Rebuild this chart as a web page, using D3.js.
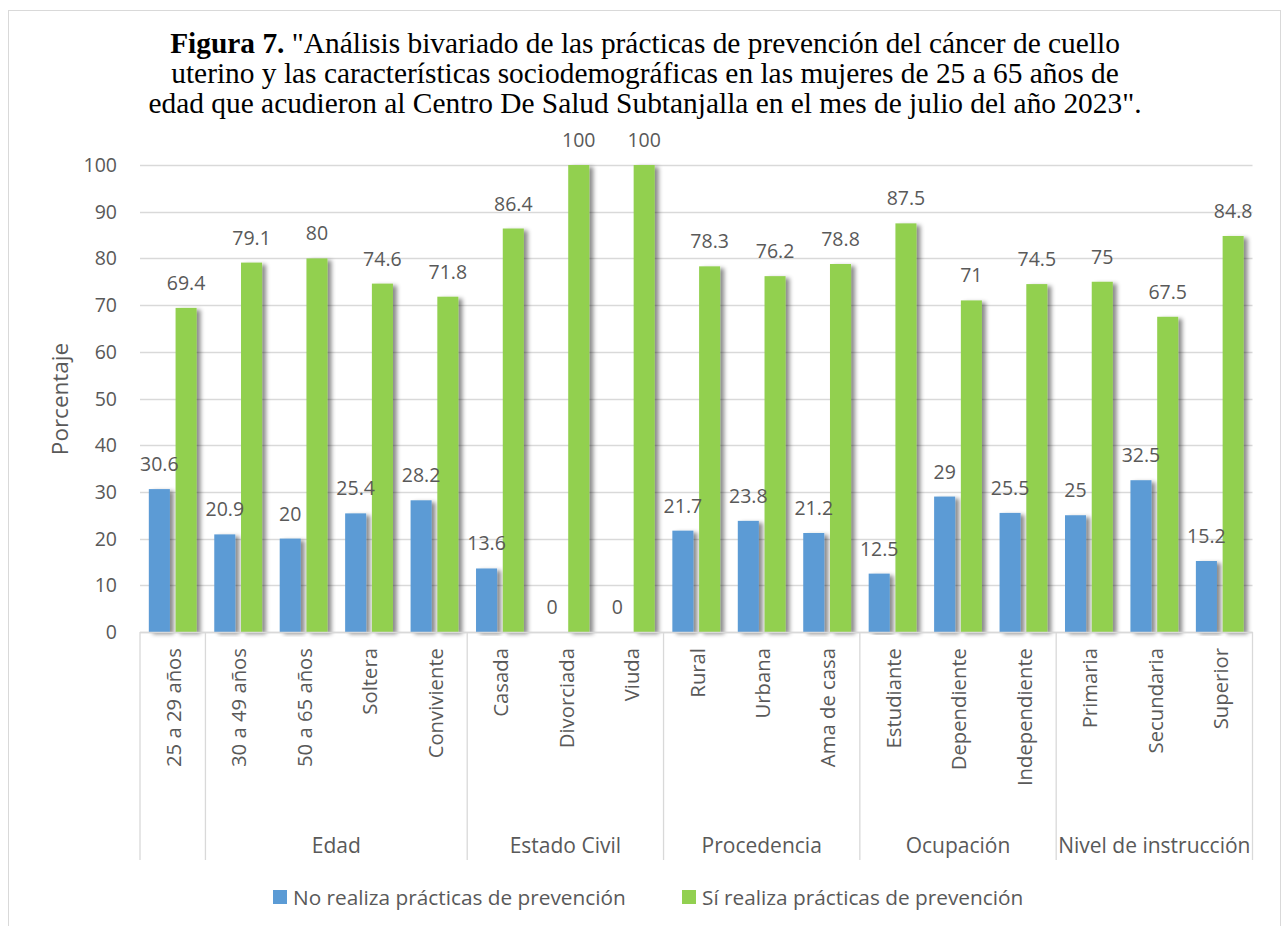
<!DOCTYPE html>
<html>
<head>
  <meta charset="utf-8">
  <title>Figura 7</title>
  <script src="https://cdn.jsdelivr.net/npm/d3@7"></script>
  <style>
    body { margin: 0; background: #fff; }
    .lbl { font-family: "Open Sans", sans-serif; fill: #595959; }
    .titulo { font-family: "Liberation Serif", "Times New Roman", serif; fill: #000; }
  </style>
</head>
<body>
<script>
  // datos
  var categorias = ["25 a 29 años", "30 a 49 años", "50 a 65 años", "Soltera", "Conviviente",
                    "Casada", "Divorciada", "Viuda", "Rural", "Urbana", "Ama de casa",
                    "Estudiante", "Dependiente", "Independiente", "Primaria", "Secundaria", "Superior"];
  var noRealiza = [30.6, 20.9, 20, 25.4, 28.2, 13.6, 0, 0, 21.7, 23.8, 21.2, 12.5, 29, 25.5, 25, 32.5, 15.2];
  var siRealiza = [69.4, 79.1, 80, 74.6, 71.8, 86.4, 100, 100, 78.3, 76.2, 78.8, 87.5, 71, 74.5, 75, 67.5, 84.8];
  var series = ["No realiza prácticas de prevención", "Sí realiza prácticas de prevención"];
  var grupos = ["", "Edad", "Estado Civil", "Procedencia", "Ocupación", "Nivel de instrucción"];
  var grupoTamano = [1, 4, 3, 3, 3, 3];
  var ticksY = [0, 10, 20, 30, 40, 50, 60, 70, 80, 90, 100];
  var lineasTitulo = [
    ["Figura 7.", " \"Análisis bivariado de las prácticas de prevención del cáncer de cuello"],
    ["", "uterino y las características sociodemográficas en las mujeres de 25 a 65 años de"],
    ["", "edad que acudieron al Centro De Salud Subtanjalla en el mes de julio del año 2023\"."]
  ];

  var ancho = 1287, alto = 926;
  var colores = ["#5b9bd5", "#92d050"];
  var izq = 140, der = 1252.5, arriba = 165, abajo = 632;

  var svg = d3.select("body").append("svg")
              .attr("width", ancho)
              .attr("height", alto);

  // sombra de las barras
  var filtro = svg.append("defs").append("filter")
                  .attr("id", "sombra")
                  .attr("x", "-20%").attr("y", "-5%")
                  .attr("width", "160%").attr("height", "110%");
  filtro.append("feDropShadow")
        .attr("dx", 4).attr("dy", 2)
        .attr("stdDeviation", 2.2)
        .attr("flood-color", "#000")
        .attr("flood-opacity", 0.45);

  // borde exterior
  svg.append("rect")
     .attr("x", 8.5).attr("y", 10.5)
     .attr("width", 1272).attr("height", 940)
     .attr("fill", "none")
     .attr("stroke", "#d9d9d9");

  // titulo
  var titulo = svg.append("text")
                  .attr("class", "titulo")
                  .attr("text-anchor", "middle")
                  .style("font-size", "29.4px");
  lineasTitulo.forEach(function(l, i) {
    var t = titulo.append("tspan")
                  .attr("x", 645)
                  .attr("y", 53 + i * 30);
    if (l[0] != "") t.append("tspan").attr("font-weight", "bold").text(l[0]);
    t.append("tspan").text(l[1]);
  });

  var y = d3.scaleLinear().domain([0, 100]).range([abajo, arriba]);
  var x0 = d3.scaleBand().domain(categorias).range([izq, der]);
  var x1 = d3.scaleBand().domain(series).range([0, x0.bandwidth()])
             .paddingInner(0.213).paddingOuter(0.33);

  // lineas de la cuadricula
  svg.append("g").selectAll("line")
     .data(ticksY)
     .enter().append("line")
     .attr("x1", izq).attr("x2", der)
     .attr("y1", function(d) { return Math.round(y(d)) + 0.5; })
     .attr("y2", function(d) { return Math.round(y(d)) + 0.5; })
     .attr("stroke", "#d9d9d9")
     .attr("stroke-width", 1.3);

  // etiquetas eje y
  svg.append("g").selectAll("text")
     .data(ticksY)
     .enter().append("text")
     .attr("class", "lbl")
     .attr("x", 117)
     .attr("y", function(d) { return y(d); })
     .attr("dy", "0.36em")
     .attr("text-anchor", "end")
     .style("font-size", "19.5px")
     .text(function(d) { return d; });

  svg.append("text")
     .attr("class", "lbl")
     .attr("transform", "translate(60,399) rotate(-90)")
     .attr("text-anchor", "middle")
     .attr("dy", "0.36em")
     .style("font-size", "22.5px")
     .text("Porcentaje");

  // barras
  var filas = categorias.map(function(c, i) {
    return { cat: c, valores: [noRealiza[i], siRealiza[i]] };
  });

  var grupo = svg.append("g").selectAll("g")
                 .data(filas)
                 .enter().append("g")
                 .attr("transform", function(d) { return "translate(" + x0(d.cat) + ",0)"; });

  grupo.selectAll("rect")
       .data(function(d) { return d.valores.map(function(v, j) { return { serie: series[j], v: v, j: j }; }); })
       .enter().append("rect")
       .attr("x", function(d) { return x1(d.serie); })
       .attr("width", x1.bandwidth())
       .attr("y", function(d) { return y(d.v); })
       .attr("height", function(d) { return abajo - y(d.v); })
       .attr("fill", function(d) { return colores[d.j]; })
       .attr("filter", function(d) { return d.v > 0 ? "url(#sombra)" : null; });

  grupo.selectAll("text")
       .data(function(d) { return d.valores.map(function(v, j) { return { serie: series[j], v: v }; }); })
       .enter().append("text")
       .attr("class", "lbl")
       .attr("x", function(d) { return x1(d.serie) + x1.bandwidth() / 2; })
       .attr("y", function(d) { return y(d.v) - 18; })
       .attr("text-anchor", "middle")
       .style("font-size", "19.5px")
       .text(function(d) { return d.v; });

  // eje x
  svg.append("line")
     .attr("x1", izq).attr("x2", der)
     .attr("y1", abajo + 0.5).attr("y2", abajo + 0.5)
     .attr("stroke", "#d9d9d9")
     .attr("stroke-width", 1.3);

  svg.append("g").selectAll("text")
     .data(categorias)
     .enter().append("text")
     .attr("class", "lbl")
     .attr("transform", function(d) { return "translate(" + (x0(d) + x0.bandwidth() / 2 + 1) + ",648) rotate(-90)"; })
     .attr("dy", "0.36em")
     .attr("text-anchor", "end")
     .style("font-size", "20.3px")
     .text(function(d) { return d; });

  // grupos de categorias
  var inicio = 0;
  var limites = [0];
  grupoTamano.forEach(function(n) { inicio += n; limites.push(inicio); });

  svg.append("g").selectAll("line")
     .data(limites)
     .enter().append("line")
     .attr("x1", function(d) { return d < categorias.length ? x0(categorias[d]) : der; })
     .attr("x2", function(d) { return d < categorias.length ? x0(categorias[d]) : der; })
     .attr("y1", abajo)
     .attr("y2", 860)
     .attr("stroke", "#d9d9d9")
     .attr("stroke-width", 1.3);

  svg.append("g").selectAll("text")
     .data(grupos)
     .enter().append("text")
     .attr("class", "lbl")
     .attr("x", function(d, i) {
        var a = x0(categorias[limites[i]]);
        var b = limites[i + 1] < categorias.length ? x0(categorias[limites[i + 1]]) : der;
        return (a + b) / 2;
     })
     .attr("y", 853)
     .attr("text-anchor", "middle")
     .style("font-size", "21px")
     .text(function(d) { return d; });

  // leyenda
  var posLeyenda = [273, 682];
  var leyenda = svg.append("g").selectAll("g")
                   .data(series)
                   .enter().append("g")
                   .attr("transform", function(d, i) { return "translate(" + posLeyenda[i] + ",890)"; });
  leyenda.append("rect")
         .attr("width", 14).attr("height", 14)
         .attr("fill", function(d, i) { return colores[i]; });
  leyenda.append("text")
         .attr("class", "lbl")
         .attr("x", 20)
         .attr("y", 7)
         .attr("dy", "0.36em")
         .style("font-size", "20.8px")
         .text(function(d) { return d; });
</script>
</body>
</html>
